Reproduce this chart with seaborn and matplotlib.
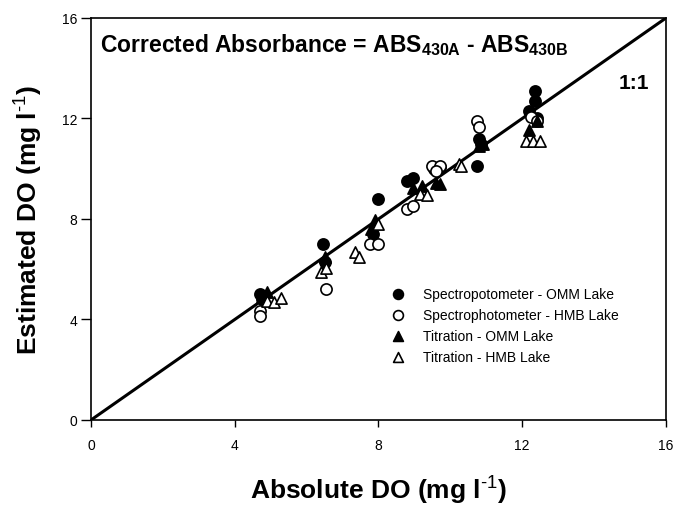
import matplotlib
matplotlib.use("Agg")
import matplotlib.pyplot as plt
import seaborn as sns
import pandas as pd

sns.set_style("white")
plt.rcParams['font.family'] = ['Liberation Sans', 'DejaVu Sans']
plt.rcParams['mathtext.fontset'] = 'custom'
plt.rcParams['mathtext.rm'] = 'Liberation Sans'
plt.rcParams['mathtext.bf'] = 'Liberation Sans:bold'
plt.rcParams['mathtext.it'] = 'Liberation Sans:italic'
for k in ['text.color', 'axes.labelcolor', 'xtick.color', 'ytick.color']:
    plt.rcParams[k] = 'black'

# Spectrophotometer - OMM Lake (filled circles)
spec_omm_x = [4.7, 4.75, 6.45, 6.5, 7.85, 8.0, 8.8, 8.95, 9.55, 9.7, 10.75, 10.8, 10.85, 12.2, 12.35, 12.35, 12.4]
spec_omm_y = [5.0, 4.8, 7.0, 6.3, 7.4, 8.8, 9.5, 9.65, 10.0, 10.05, 10.1, 11.2, 11.0, 12.3, 12.7, 13.1, 12.0]
# Spectrophotometer - HMB Lake (open circles)
spec_hmb_x = [4.7, 4.7, 6.55, 7.75, 8.0, 8.8, 8.95, 9.5, 9.7, 9.6, 10.75, 10.8, 12.25, 12.4]
spec_hmb_y = [4.35, 4.15, 5.2, 7.0, 7.0, 8.4, 8.5, 10.1, 10.1, 9.9, 11.9, 11.65, 12.05, 11.9]
# Titration - OMM Lake (filled triangles)
tit_omm_x = [4.75, 4.9, 6.5, 7.8, 7.9, 8.95, 9.2, 9.6, 9.7, 10.8, 10.9, 12.2, 12.4]
tit_omm_y = [4.9, 5.1, 6.5, 7.6, 7.95, 9.25, 9.3, 9.45, 9.4, 10.9, 11.0, 11.55, 11.9]
# Titration - HMB Lake (open triangles)
tit_hmb_x = [4.9, 5.1, 5.3, 6.4, 6.55, 7.35, 7.45, 8.0, 9.15, 9.35, 10.25, 10.3, 12.1, 12.3, 12.5]
tit_hmb_y = [4.75, 4.7, 4.85, 5.9, 6.05, 6.7, 6.5, 7.8, 9.0, 8.95, 10.2, 10.1, 11.1, 11.1, 11.1]

series = [
    ("Spectropotometer - OMM Lake", spec_omm_x, spec_omm_y, "o", "black"),
    ("Spectrophotometer - HMB Lake", spec_hmb_x, spec_hmb_y, "o", "white"),
    ("Titration - OMM Lake", tit_omm_x, tit_omm_y, "^", "black"),
    ("Titration - HMB Lake", tit_hmb_x, tit_hmb_y, "^", "white"),
]

ticks = [0, 4, 8, 12, 16]
one_to_one = [0, 16]

fig = plt.figure(figsize=(6.73, 5.06), dpi=100)
ax = fig.add_axes([0.1352, 0.168, 0.8544, 0.7945])

sns.lineplot(x=one_to_one, y=one_to_one, ax=ax, color="black", linewidth=2.2, zorder=1)

handles = []
for label, xs, ys, mk, fc in series:
    df = pd.DataFrame({"x": xs, "y": ys})
    sns.scatterplot(data=df, x="x", y="y", ax=ax, marker=mk, s=65,
                    facecolor=fc, edgecolor="black", linewidth=1.2, zorder=3)
    h = ax.scatter([], [], marker=mk, s=50, facecolor=fc, edgecolor="black",
                   linewidths=1.2, label=label)
    handles.append(h)

ax.set_xlim(0, 16)
ax.set_ylim(0, 16)
ax.set_xticks(ticks)
ax.set_yticks(ticks)
ax.set_xticklabels([str(t) for t in ticks], fontsize=10)
ax.set_yticklabels([str(t) for t in ticks], fontsize=10)
ax.tick_params(axis="x", direction="out", length=5, width=1, bottom=True, pad=8)
ax.tick_params(axis="y", direction="out", length=7, width=1, left=True, pad=3)
for sp in ax.spines.values():
    sp.set_color("black")
    sp.set_linewidth(1.2)

ax.set_xlabel(r"Absolute DO (mg l$^{\mathbf{\text{-1}}}$)", fontsize=19, fontweight="bold", labelpad=16)
ax.set_ylabel(r"Estimated DO (mg l$^{\mathbf{\text{-1}}}$)", fontsize=19, fontweight="bold", labelpad=12)

ax.text(0.016, 0.935, r"Corrected Absorbance = ABS$_{\mathbf{430A}}$ - ABS$_{\mathbf{430B}}$",
        transform=ax.transAxes, fontsize=16.5, fontweight="bold", ha="left", va="center")
ax.text(0.97, 0.84, "1:1", transform=ax.transAxes, fontsize=15, fontweight="bold",
        ha="right", va="center")

leg = ax.legend(handles=handles, loc="upper left", bbox_to_anchor=(0.5, 0.345),
                frameon=False, fontsize=10, handletextpad=0.8, labelspacing=0.5,
                borderaxespad=0)

fig.savefig("out.png", dpi=100)
